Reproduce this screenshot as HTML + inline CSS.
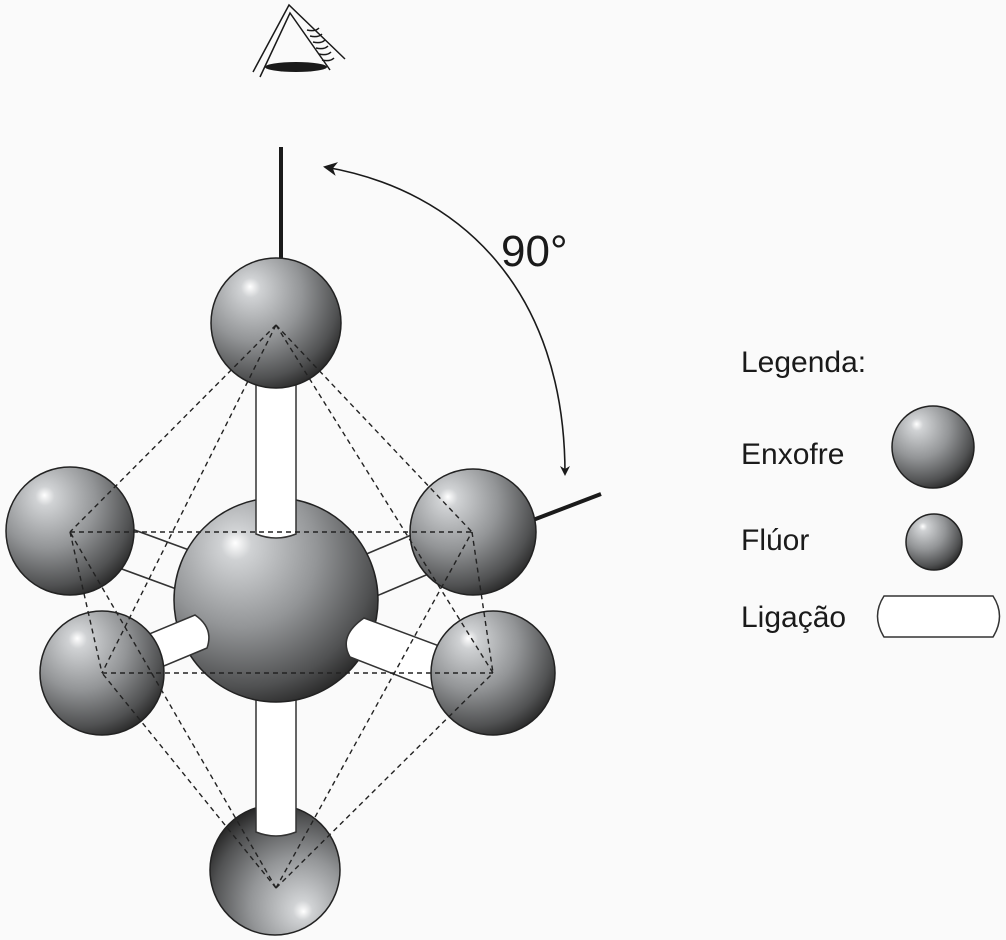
<!DOCTYPE html>
<html><head><meta charset="utf-8"><style>
html,body{margin:0;padding:0;background:#fafafa;}
svg{display:block;}
text{font-family:"Liberation Sans",Arial,sans-serif;fill:#1a1a1a;}
</style></head><body>
<svg width="1006" height="940" viewBox="0 0 1006 940" xmlns="http://www.w3.org/2000/svg">
<defs>
<radialGradient id="g" cx="0.35" cy="0.3" r="0.75" fx="0.3" fy="0.22">
<stop offset="0" stop-color="#ffffff"/>
<stop offset="0.1" stop-color="#d0d2d4"/>
<stop offset="0.5" stop-color="#939597"/>
<stop offset="0.85" stop-color="#505152"/>
<stop offset="1" stop-color="#2a2a2a"/>
</radialGradient>
<radialGradient id="gb" cx="0.65" cy="0.72" r="0.75" fx="0.72" fy="0.82">
<stop offset="0" stop-color="#ffffff"/>
<stop offset="0.1" stop-color="#d0d2d4"/>
<stop offset="0.5" stop-color="#939597"/>
<stop offset="0.85" stop-color="#505152"/>
<stop offset="1" stop-color="#2a2a2a"/>
</radialGradient>
<marker id="ah" markerWidth="10" markerHeight="10" refX="8" refY="5" orient="auto" markerUnits="userSpaceOnUse" viewBox="0 0 10 10">
<path d="M0,0 L10,5 L0,10 L3,5 z" fill="#1a1a1a"/>
</marker>
<marker id="as" markerWidth="14" markerHeight="14" refX="2" refY="7" orient="auto" markerUnits="userSpaceOnUse" viewBox="0 0 14 14">
<path d="M14,0 L0,7 L14,14 L10,7 z" fill="#1a1a1a"/>
</marker>
</defs>

<!-- eye -->
<g stroke="#1a1a1a" fill="none" stroke-width="1.5">
<path d="M253,72 L289,5 L345,59"/>
<path d="M260,77 L290,13 L330,70"/>
<path d="M307,30 q8,2 12,-2 M310,36 q8,2 12,-2 M313,42 q8,2 12,-2 M316,48 q8,2 12,-2 M319,54 q8,2 12,-2 M322,60 q8,2 12,-2"/>
</g>
<ellipse cx="296" cy="67" rx="31" ry="5" fill="#1a1a1a"/>

<!-- axis lines -->
<line x1="281" y1="147" x2="281" y2="262" stroke="#1a1a1a" stroke-width="4"/>
<line x1="533" y1="520" x2="601" y2="494" stroke="#1a1a1a" stroke-width="4"/>

<!-- arc -->
<path d="M325,167 C460,190 565,290 565,474" fill="none" stroke="#1a1a1a" stroke-width="1.6" marker-start="url(#as)" marker-end="url(#ah)"/>
<text x="501" y="266" font-size="44">90°</text>

<!-- thin bonds behind (upper F) -->
<g stroke="#333" stroke-width="1.6">
<line x1="110" y1="521" x2="200" y2="554"/>
<line x1="100" y1="561" x2="190" y2="594"/>
<line x1="430" y1="527" x2="350" y2="561"/>
<line x1="445" y1="567" x2="360" y2="603"/>
</g>

<!-- upper F spheres -->
<circle cx="70" cy="531" r="64" fill="url(#g)" stroke="#222" stroke-width="1.5"/>
<circle cx="473" cy="532" r="63" fill="url(#g)" stroke="#222" stroke-width="1.5"/>

<!-- bottom sphere & bottom bond -->
<circle cx="275" cy="870" r="65" fill="url(#gb)" stroke="#222" stroke-width="1.5"/>
<path d="M256,680 L256,832 Q276,840 296,832 L296,680 z" fill="#fff" stroke="#333" stroke-width="1.5"/>

<!-- central S -->
<circle cx="276" cy="600" r="102" fill="url(#g)" stroke="#222" stroke-width="1.5"/>

<!-- top bond -->
<path d="M256,370 L256,534 Q276,542 296,534 L296,370 z" fill="#fff" stroke="#333" stroke-width="1.5"/>

<!-- lower bonds -->
<path d="M130,642 L195,615 Q214,628 207,648 L140,676 z" fill="#fff" stroke="#333" stroke-width="1.5"/>
<path d="M364,618 L450,650 L445,694 L350,657 Q338,636 364,618 z" fill="#fff" stroke="#333" stroke-width="1.5"/>

<!-- lower F spheres -->
<circle cx="102" cy="673" r="62" fill="url(#g)" stroke="#222" stroke-width="1.5"/>
<circle cx="493" cy="673" r="62" fill="url(#g)" stroke="#222" stroke-width="1.5"/>

<!-- top sphere -->
<circle cx="276" cy="323" r="65" fill="url(#g)" stroke="#222" stroke-width="1.5"/>

<!-- dashed octahedron -->
<g stroke="#222" stroke-width="1.4" stroke-dasharray="5,4" fill="none">
<line x1="70" y1="532" x2="472" y2="532"/>
<line x1="102" y1="673" x2="493" y2="673"/>
<line x1="70" y1="532" x2="102" y2="673"/>
<line x1="472" y1="532" x2="493" y2="673"/>
<line x1="276" y1="325" x2="70" y2="532"/>
<line x1="276" y1="325" x2="472" y2="532"/>
<line x1="276" y1="325" x2="102" y2="673"/>
<line x1="276" y1="325" x2="493" y2="673"/>
<line x1="276" y1="888" x2="70" y2="532"/>
<line x1="276" y1="888" x2="472" y2="532"/>
<line x1="276" y1="888" x2="102" y2="673"/>
<line x1="276" y1="888" x2="493" y2="673"/>
</g>

<!-- legend -->
<text x="741" y="372" font-size="30">Legenda:</text>
<text x="741" y="464" font-size="30">Enxofre</text>
<text x="741" y="550" font-size="30">Flúor</text>
<text x="741" y="627" font-size="30">Ligação</text>
<circle cx="933" cy="447" r="41" fill="url(#g)" stroke="#222" stroke-width="1.5"/>
<circle cx="934" cy="542" r="28" fill="url(#g)" stroke="#222" stroke-width="1.5"/>
<path d="M884,596 L993,596 Q1006,616 993,637 L884,637 Q871,616 884,596 z" fill="#fff" stroke="#333" stroke-width="1.5"/>
</svg>
</body></html>
